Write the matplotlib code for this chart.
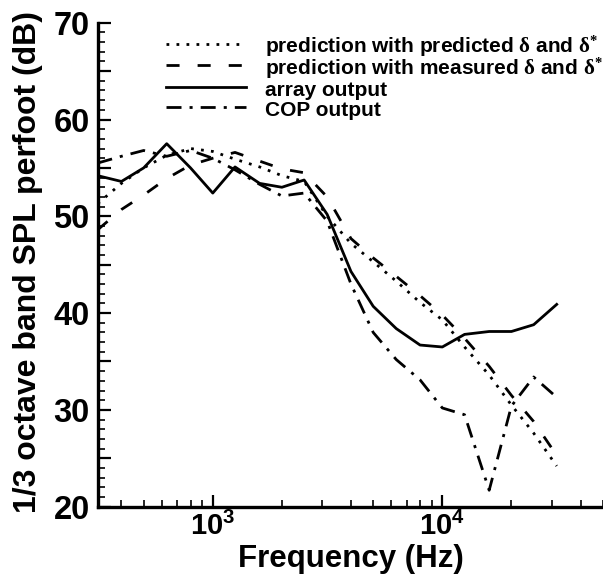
import numpy as np
import matplotlib
matplotlib.use("Agg")
import matplotlib.pyplot as plt
from matplotlib.ticker import FixedLocator, NullFormatter

plt.rcParams['font.family'] = ['Liberation Sans', 'DejaVu Sans']
plt.rcParams['font.weight'] = 'bold'
plt.rcParams['mathtext.fontset'] = 'custom'
plt.rcParams['mathtext.rm'] = 'Liberation Serif'
plt.rcParams['mathtext.it'] = 'Liberation Serif:italic'
plt.rcParams['mathtext.bf'] = 'Liberation Sans:bold'
plt.rcParams['mathtext.sf'] = 'Liberation Sans:bold'

# 1/3 octave band centre frequencies (Hz)
freq = [315, 400, 500, 630, 800, 1000, 1250, 1600, 2000, 2500, 3150,
        4000, 5000, 6300, 8000, 10000, 12500, 16000, 20000, 25000, 31500]

pred_predicted = [51.3, 53.4, 55.0, 56.3, 57.0, 56.7, 55.9, 55.1, 54.2, 53.6, 50.0,
                  47.2, 45.3, 43.3, 41.1, 39.3, 36.5, 33.6, 30.5, 27.6, 24.2]
pred_measured = [48.6, 50.7, 52.2, 53.9, 55.3, 56.0, 56.6, 55.7, 54.9, 54.5, 52.0,
                 47.7, 45.7, 43.8, 41.8, 39.8, 37.4, 34.5, 31.5, 28.8, 25.3]
array_output = [54.2, 53.6, 55.0, 57.5, 55.0, 52.4, 55.1, 53.4, 53.0, 53.75, 50.2,
                44.3, 40.7, 38.4, 36.7, 36.5, 37.8, 38.1, 38.1, 38.8, 40.9]
cop_output = [55.5, 56.2, 56.8, 56.2, 56.8, 56.0, 54.8, 53.3, 52.1, 52.4, 49.5,
              43.0, 38.0, 35.2, 33.1, 30.2, 29.5, 21.7, 30.4, 33.4, 31.3]

labels = [r'prediction with predicted $\mathrm{\delta}$ and $\mathrm{\delta}^{*}$',
          r'prediction with measured $\mathrm{\delta}$ and $\mathrm{\delta}^{*}$',
          'array output',
          'COP output']

xtick_vals = [1e3, 1e4]
xtick_labels = [r'$\mathbf{10^{3}}$', r'$\mathbf{10^{4}}$']
ytick_vals = [20, 30, 40, 50, 60, 70]

fig = plt.figure(figsize=(6.03, 5.74), dpi=100)
ax = fig.add_axes([98 / 603, 67.3 / 574, 1 - 98 / 603, 484 / 574])

lw = 2.0
ax.plot(freq, pred_predicted, color='black', lw=lw, linestyle=(0, (1.0, 2.6)), label=labels[0])
ax.plot(freq, pred_measured, color='black', lw=lw, linestyle=(0, (4.7, 6.5)), label=labels[1])
ax.plot(freq, array_output, color='black', lw=lw, linestyle='-', label=labels[2])
ax.plot(freq, cop_output, color='black', lw=lw, linestyle=(0, (5.4, 2.9, 1.1, 2.9)), label=labels[3])

ax.set_xscale('log')
ax.set_xlim(10 ** 2.5, 10 ** 4.7)
ax.set_ylim(20, 70)

ax.xaxis.set_major_locator(FixedLocator(xtick_vals))
ax.set_xticklabels(xtick_labels)
minors = [m * 10 ** e for e in (2, 3, 4) for m in range(2, 10)]
ax.xaxis.set_minor_locator(FixedLocator(minors))
ax.xaxis.set_minor_formatter(NullFormatter())

ymaj = list(range(20, 71, 5))
ax.yaxis.set_major_locator(FixedLocator(ymaj))
ax.set_yticklabels([str(v) if v in ytick_vals else '' for v in ymaj])
ax.yaxis.set_minor_locator(FixedLocator(list(range(20, 71))))

ax.tick_params(axis='both', which='major', direction='in', length=9, width=1.6)
ax.tick_params(axis='both', which='minor', direction='in', length=5, width=1.2)
ax.tick_params(axis='x', which='major', labelsize=21, pad=4)
ax.tick_params(axis='y', which='major', labelsize=23.5, pad=6)

for s in ('top', 'right'):
    ax.spines[s].set_visible(False)
for s in ('left', 'bottom'):
    ax.spines[s].set_linewidth(2.4)

ax.set_xlabel('Frequency (Hz)', fontsize=22.5, fontweight='bold', labelpad=2)
ax.set_ylabel('1/3 octave band SPL perfoot (dB)', fontsize=23, fontweight='bold')
ax.yaxis.set_label_coords(-0.108, 0.505)

leg = ax.legend(loc='upper left', bbox_to_anchor=(166 / 603, 1 - 34 / 574),
                bbox_transform=fig.transFigure, frameon=False, borderpad=0,
                borderaxespad=0, handlelength=3.85, handletextpad=0.88,
                handleheight=1.35, labelspacing=-0.165,
                prop={'size': 15, 'weight': 'bold'})

fig.savefig('out.png', dpi=100)
